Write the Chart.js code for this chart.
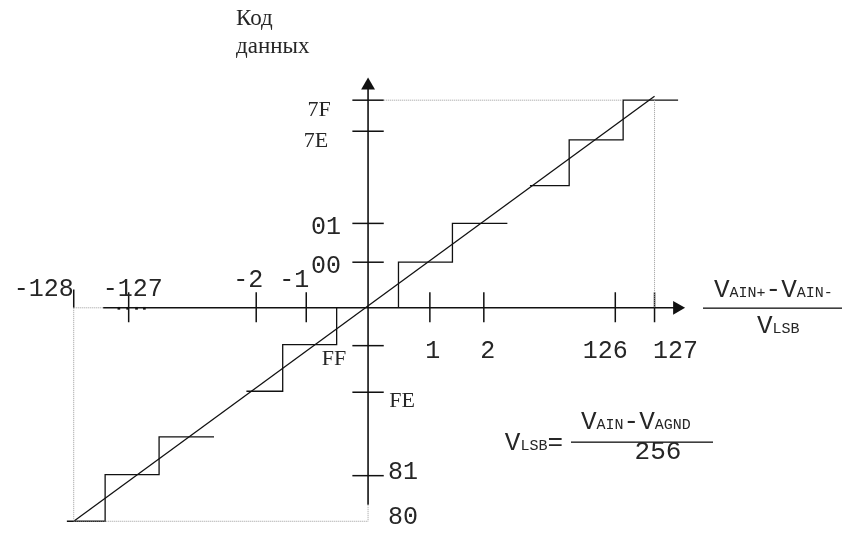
<!DOCTYPE html>
<html>
<head>
<meta charset="utf-8">
<title>Код данных</title>
<script src="https://cdn.jsdelivr.net/npm/chart.js"></script>
<style>
  html, body { margin: 0; padding: 0; background: #fff; }
  #wrap { width: 846px; height: 538px; }
</style>
</head>
<body>
<div id="wrap"><canvas id="adcChart" width="846" height="538"></canvas></div>
<script>
// transfer characteristic of the bipolar ADC, drawn in schematic units
// (origin where the axes cross, x to the right, y upward)
const xTickCodes = ['-128', '-127', '-2', '-1', '1', '2', '126', '127'];
const xTickPos = [-300, -244, -114, -63, 63, 118, 252, 292];

const yTickCodes = ['7F', '7E', '01', '00', 'FF', 'FE', '81', '80'];
const yTickPos = [214, 182, 87, 47, -39, -87, -173, -220];

// output code staircase, drawn in four pieces
const stepsAboveZero = [[31, 0], [31, 47], [86, 47], [86, 87], [142, 87]];
const stepsTop = [[165, 126], [205, 126], [205, 173], [260, 173], [260, 214], [316, 214]];
const stepsBelowZero = [[-32, 0], [-32, -38], [-87, -38], [-87, -86], [-124, -86]];
const stepsBottom = [[-157, -133], [-213, -133], [-213, -172], [-268, -172], [-268, -220], [-307, -220]];

// ideal straight transfer line
const idealLine = [[-300, -220], [292, 218]];

// "...." on the axis between -128 and -127
const gapDots = [-254, -245, -236, -228];

const MONO = '"Liberation Mono", "Courier New", monospace';
const SERIF = '"Liberation Serif", "Times New Roman", serif';
const INK = '#111';
const TEXT = '#262626';
const GUIDE = '#9a9a9a';

const pts = arr => arr.map(([x, y]) => ({ x, y }));

function seg(data, opts = {}) {
  return Object.assign({
    data: pts(data),
    showLine: true,
    borderColor: INK,
    borderWidth: 1.3,
    pointRadius: 0,
    fill: false,
    tension: 0
  }, opts);
}

const datasets = [];

// guides (dotted)
const dotted = { borderColor: GUIDE, borderWidth: 1, borderDash: [1, 1] };
datasets.push(seg([[xTickPos[7], yTickPos[0]], [xTickPos[7], 0]], dotted));
datasets.push(seg([[16, yTickPos[0]], [260, yTickPos[0]]], dotted));
datasets.push(seg([[xTickPos[0], 0], [xTickPos[0], yTickPos[7]]], dotted));
datasets.push(seg([[xTickPos[0], yTickPos[7]], [0, yTickPos[7]]], dotted));
datasets.push(seg([[xTickPos[0], 0], [-270, 0]], dotted));
datasets.push(seg([[0, -203], [0, yTickPos[7]]], dotted));

// axes
datasets.push(seg([[-270, 0], [314, 0]], { borderWidth: 1.6 }));
datasets.push(seg([[0, -203], [0, 228]], { borderWidth: 1.6 }));

// x ticks
xTickPos.forEach((x, i) => {
  const top = i === 0 ? 19 : 16;
  const bottom = i === 0 ? 0 : -15;
  datasets.push(seg([[x, top], [x, bottom]], { borderWidth: 1.5 }));
});

// y ticks (the 80 level is marked by the dotted guide only)
yTickPos.forEach((y, i) => {
  if (yTickCodes[i] === '80') return;
  datasets.push(seg([[-16, y], [16, y]], { borderWidth: 1.5 }));
});

// staircase and ideal line
[stepsAboveZero, stepsTop, stepsBelowZero, stepsBottom, idealLine].forEach(s => datasets.push(seg(s)));

// ellipsis dots
datasets.push({
  data: gapDots.map(x => ({ x, y: -0.5 })),
  showLine: false,
  pointStyle: 'rect',
  pointRadius: 1.9,
  pointBackgroundColor: INK,
  pointBorderWidth: 0
});

// arrowheads
datasets.push({
  data: [{ x: 0, y: 229 }],
  pointStyle: 'triangle',
  pointRadius: 8,
  pointBackgroundColor: INK,
  pointBorderWidth: 0
});
datasets.push({
  data: [{ x: 315, y: 0 }],
  pointStyle: 'triangle',
  pointRotation: 90,
  pointRadius: 8,
  pointBackgroundColor: INK,
  pointBorderWidth: 0
});

function runs(ctx, parts, x, y) {
  ctx.textAlign = 'left';
  parts.forEach(([t, size]) => {
    ctx.font = size + 'px ' + MONO;
    ctx.fillText(t, x, y);
    x += ctx.measureText(t).width;
  });
  return x;
}

function runsWidth(ctx, parts) {
  let w = 0;
  parts.forEach(([t, size]) => {
    ctx.font = size + 'px ' + MONO;
    w += ctx.measureText(t).width;
  });
  return w;
}

const labelsPlugin = {
  id: 'schemeLabels',
  afterDraw(chart) {
    const ctx = chart.ctx;
    const sx = chart.scales.x, sy = chart.scales.y;
    const ox = sx.getPixelForValue(0), oy = sy.getPixelForValue(0);
    ctx.save();
    ctx.fillStyle = TEXT;
    ctx.textBaseline = 'alphabetic';

    // x tick labels: horizontal shift and baseline relative to the axis
    const xLayout = [[-30, -12], [4, -12], [-8, -21], [-12, -21], [3, 50], [4, 50], [-10, 50], [21, 50]];
    ctx.font = '25px ' + MONO;
    ctx.textAlign = 'center';
    xTickCodes.forEach((t, i) => {
      const px = sx.getPixelForValue(xTickPos[i]);
      ctx.fillText(t, px + xLayout[i][0], oy + xLayout[i][1]);
    });

    // y tick labels: font, shift from the axis, baseline below the tick
    const yLayout = [
      [SERIF, 22, -49, 16], [SERIF, 22, -52, 16],
      [MONO, 25, -42, 11], [MONO, 25, -42, 11],
      [SERIF, 22, -34, 19], [SERIF, 22, 34, 15],
      [MONO, 25, 35, 3], [MONO, 25, 35, 3]
    ];
    yTickCodes.forEach((t, i) => {
      const [fam, size, dx, dy] = yLayout[i];
      ctx.font = size + 'px ' + fam;
      ctx.textAlign = 'center';
      ctx.fillText(t, ox + dx, sy.getPixelForValue(yTickPos[i]) + dy);
    });

    // y axis title
    ctx.font = '23px ' + SERIF;
    ctx.textAlign = 'left';
    ctx.fillText('Код', 236, 25);
    ctx.fillText('данных', 236, 53);

    // x axis title as a fraction
    const big = 26, small = 15;
    runs(ctx, [['V', big], ['AIN+', small], ['-V', big], ['AIN-', small]], 714, 297);
    ctx.fillStyle = INK;
    ctx.fillRect(703, 307.5, 139, 1.3);
    ctx.fillStyle = TEXT;
    runs(ctx, [['V', big], ['LSB', small]], 757, 333);

    // V_LSB definition
    const lhs = [['V', big], ['LSB', small], ['=', big]];
    runs(ctx, lhs, 563 - runsWidth(ctx, lhs), 450);
    runs(ctx, [['V', big], ['AIN', small], ['-V', big], ['AGND', small]], 581, 429);
    ctx.fillStyle = INK;
    ctx.fillRect(571, 441.5, 142, 1.3);
    ctx.fillStyle = TEXT;
    ctx.font = big + 'px ' + MONO;
    ctx.textAlign = 'center';
    ctx.fillText('256', 658, 459);

    ctx.restore();
  }
};

new Chart(document.getElementById('adcChart'), {
  type: 'scatter',
  data: { datasets },
  options: {
    responsive: false,
    animation: false,
    devicePixelRatio: 1,
    layout: { padding: 0 },
    plugins: { legend: { display: false }, tooltip: { enabled: false } },
    scales: {
      x: { type: 'linear', min: -367, max: 479, display: false },
      y: { type: 'linear', min: -229, max: 309, display: false }
    },
    elements: { line: { borderCapStyle: 'butt' } }
  },
  plugins: [labelsPlugin]
});
</script>
</body>
</html>
